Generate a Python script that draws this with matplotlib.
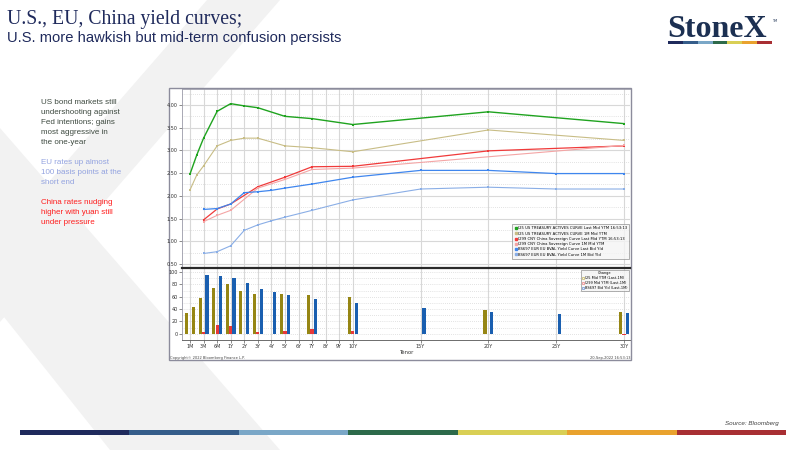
import numpy as np
import matplotlib
matplotlib.use("Agg")
import matplotlib.pyplot as plt
from matplotlib.patches import Polygon, Rectangle
from matplotlib.lines import Line2D

# %%
# tenor axis: short end squeezed, then years on a linear scale
tenor_labels = ["1M", "3M", "6M", "1Y", "2Y", "3Y", "4Y", "5Y", "6Y", "7Y", "8Y", "9Y",
                "10Y", "15Y", "20Y", "25Y", "30Y"]
short_end = {"1M": -2, "2M": -1.5, "3M": -1, "6M": 0}

# US treasury actives curve (I25)
us_tenors = ["1M", "2M", "3M", "6M", "1Y", "2Y", "3Y", "5Y", "7Y", "10Y", "20Y", "30Y"]
us_last = [2.48, 2.90, 3.27, 3.86, 4.03, 3.98, 3.94, 3.75, 3.70, 3.57, 3.85, 3.59]
us_1m = [2.13, 2.46, 2.66, 3.10, 3.22, 3.27, 3.27, 3.10, 3.06, 2.97, 3.45, 3.22]
us_chg = [34, 43, 58, 74, 80, 70, 65, 64, 62, 59, 39, 36]

# China sovereign curve (I299)
cn_last_tenors = ["3M", "6M", "1Y", "3Y", "5Y", "7Y", "10Y", "20Y", "30Y"]
cn_last = [1.47, 1.71, 1.82, 2.20, 2.41, 2.64, 2.65, 2.99, 3.10]
cn_1m_tenors = ["3M", "6M", "1Y", "3Y", "5Y", "7Y", "10Y", "30Y"]
cn_1m = [1.43, 1.57, 1.68, 2.17, 2.36, 2.58, 2.61, 3.11]
cn_chg = [3, 13.5, 12.5, 2, 5, 7, 4, -1.5]

# EU BVAL curve (BS697)
eu_tenors = ["3M", "6M", "1Y", "2Y", "3Y", "4Y", "5Y", "7Y", "10Y", "15Y", "20Y", "25Y", "30Y"]
eu_last = [1.70, 1.72, 1.82, 2.07, 2.09, 2.12, 2.17, 2.26, 2.41, 2.56, 2.56, 2.49, 2.49]
eu_1m = [0.73, 0.77, 0.90, 1.24, 1.36, 1.45, 1.53, 1.68, 1.91, 2.15, 2.19, 2.15, 2.15]
eu_chg = [95, 94, 90, 82, 72, 67, 63, 56, 50, 41.6, 36, 32, 33.5]

legend_top = ["I25 US TREASURY ACTIVES CURVE Last Mid YTM 16:53:13",
              "I25 US TREASURY ACTIVES CURVE 1M Mid YTM",
              "I299 CNY China Sovereign Curve Last Mid YTM 16:53:13",
              "I299 CNY China Sovereign Curve 1M Mid YTM",
              "BS697 EUR EU BVAL Yield Curve Last Bid Yld",
              "BS697 EUR EU BVAL Yield Curve 1M Bid Yld"]
legend_bottom = ["I25 Mid YTM (Last-1M)", "I299 Mid YTM (Last-1M)", "BS697 Bid Yld (Last-1M)"]

stripe_colors = ["#1f2a5c", "#355d8a", "#7aa7c7", "#2d6a4a", "#d9cf55", "#e9a22e", "#a82f33"]


def tx(t):
    if t in short_end:
        return short_end[t]
    return float(t[:-1])


navy = "#1f2a5c"

fig = plt.figure(figsize=(8, 4.5), dpi=100)

# background layer in pixel coordinates
bg = fig.add_axes([0, 0, 1, 1], zorder=0)
bg.set_xlim(0, 800)
bg.set_ylim(450, 0)
bg.axis("off")
bg.add_patch(Polygon([(207, 0), (280, 0), (0, 322), (0, 238)], closed=True, color="#f2f2f2", lw=0))
bg.add_patch(Polygon([(0, 128), (280, 450), (110, 450), (0, 312)], closed=True, color="#f2f2f2", lw=0))
bg.add_patch(Rectangle((169, 88), 462, 272, facecolor="white", edgecolor="#8c8c9c", lw=1))

bg.text(7, 24, "U.S., EU, China yield curves;", family="Liberation Serif", fontsize=14.2,
        color=navy, va="baseline")
bg.text(7, 42, "U.S. more hawkish but mid-term confusion persists", family="Liberation Sans",
        fontsize=10.6, color=navy, va="baseline")

paras = [(["US bond markets still", "undershooting against", "Fed intentions; gains",
           "most aggressive in", "the one-year"], 104.5, "#3e4a40"),
         (["EU rates up almost", "100 basis points at the", "short end"], 164.5, "#93a3e0"),
         (["China rates nudging", "higher with yuan still", "under pressure"], 204.5, "#ff1f1f")]
for lines, y0, col in paras:
    for i, line in enumerate(lines):
        bg.text(41, y0 + 10 * i, line, family="Liberation Sans", fontsize=5.8, color=col,
                va="baseline")

# logo
bg.text(667, 37, "StoneX", family="Liberation Serif", fontsize=23, fontweight="bold",
        color="#1c3052", va="baseline")
bg.text(772, 22, "TM", fontsize=2.5, color="#1c3052", va="baseline")
seg = 104 / 7
for i, c in enumerate(stripe_colors):
    bg.add_patch(Rectangle((668 + i * seg, 41), seg, 3, color=c, lw=0))

# footer
seg = (786 - 20) / 7
for i, c in enumerate(stripe_colors):
    bg.add_patch(Rectangle((20 + i * seg, 430), seg, 5, color=c, lw=0))
bg.text(779, 425.5, "Source: Bloomberg", family="Liberation Sans", fontsize=4.5,
        style="italic", color="#404040", ha="right", va="baseline")

bg.text(400, 352, "Tenor", fontsize=3.8, color="#333333", ha="left", va="center")
bg.text(170, 357.5, "Copyright\u00a9 2022 Bloomberg Finance L.P.", fontsize=2.6,
        color="#444444", va="center")
bg.text(630, 357.5, "20-Sep-2022 16:53:13", fontsize=2.6, color="#444444", ha="right",
        va="center")

tick_pos = [tx(t) for t in tenor_labels]
xlim = (-2.59, 30.44)
grid_c = "#d8d8d8"

# %%
# upper panel: yield curves
ax1 = fig.add_axes([0.2275, 0.4044, 0.56, 0.3989], zorder=2)
ax1.set_xlim(*xlim)
ax1.set_ylim(0.41, 4.363)
ax1.set_xticks(tick_pos)
ax1.tick_params(axis="x", length=0, labelbottom=False)
ax1.set_yticks(np.arange(0.5, 4.01, 0.5))
ax1.set_yticks(np.arange(0.75, 4.3, 0.5), minor=True)
ax1.yaxis.set_major_formatter(matplotlib.ticker.FormatStrFormatter("%.2f"))
ax1.tick_params(axis="y", which="major", labelsize=3.5, length=2, width=0.4, pad=1,
                colors="#333333")
ax1.tick_params(axis="y", which="minor", length=0)
ax1.grid(axis="x", color=grid_c, lw=0.8)
ax1.grid(axis="y", which="major", color=grid_c, lw=0.8)
ax1.grid(axis="y", which="minor", color="#c8c8c8", lw=0.5, ls=(0, (1, 2)))
ax1.spines["right"].set_visible(False)
for s in ["left", "top"]:
    ax1.spines[s].set_color("#9a9aa8")
    ax1.spines[s].set_linewidth(0.6)
ax1.spines["bottom"].set_color("#2a2a2a")
ax1.spines["bottom"].set_linewidth(1.6)

curves = [(us_tenors, us_last, "#1fa31f", 1.0),
          (us_tenors, us_1m, "#c8bd86", 0.8),
          (cn_last_tenors, cn_last, "#f03a3a", 0.9),
          (cn_1m_tenors, cn_1m, "#f4a5a5", 0.8),
          (eu_tenors, eu_last, "#3f86ee", 0.9),
          (eu_tenors, eu_1m, "#8aaee6", 0.8)]
handles = []
for tens, vals, col, lw in curves:
    ax1.plot([tx(t) for t in tens], vals, color=col, lw=lw, marker="s", ms=1.6, mew=0)
    handles.append(Line2D([], [], ls="none", marker="s", ms=1.8, color=col))

leg = ax1.legend(handles, legend_top, loc="lower right", bbox_to_anchor=(0.998, 0.05),
                 fontsize=2.7, frameon=True, fancybox=False, handletextpad=0.2,
                 labelspacing=0.35, borderpad=0.6, handlelength=0.6, borderaxespad=0)
leg.get_frame().set_edgecolor("#8c8c8c")
leg.get_frame().set_facecolor("#f4f4f4")
leg.get_frame().set_linewidth(0.6)

# %%
# lower panel: change over one month in bp
ax2 = fig.add_axes([0.2275, 0.2444, 0.56, 0.1578], zorder=1)
ax2.set_xlim(*xlim)
ax2.set_ylim(-10.2, 104.9)
ax2.set_xticks(tick_pos)
ax2.set_xticklabels(tenor_labels)
ax2.tick_params(axis="x", labelsize=3.5, length=2, width=0.4, pad=1, colors="#333333")
ax2.set_yticks(np.arange(0, 101, 20))
ax2.set_yticks(np.arange(10, 101, 20), minor=True)
ax2.tick_params(axis="y", which="major", labelsize=3.5, length=2, width=0.4, pad=1,
                colors="#333333")
ax2.tick_params(axis="y", which="minor", length=0)
ax2.grid(axis="x", color=grid_c, lw=0.8)
ax2.grid(axis="y", which="both", color="#c8c8c8", lw=0.5, ls=(0, (1, 2)))
ax2.spines["top"].set_visible(False)
ax2.spines["right"].set_visible(False)
ax2.spines["left"].set_color("#9a9aa8")
ax2.spines["left"].set_linewidth(0.6)
ax2.spines["bottom"].set_color("#555555")
ax2.spines["bottom"].set_linewidth(0.6)
ax2.set_axisbelow(True)

bw = 0.24
bar_sets = [(us_tenors, us_chg, -0.25, "#968614"),
            (cn_1m_tenors, cn_chg, 0.0, "#e8383a"),
            (eu_tenors, eu_chg, 0.25, "#1a5fb0")]
for tens, vals, off, col in bar_sets:
    ax2.bar([tx(t) + off for t in tens], vals, width=bw, color=col, lw=0, zorder=3)

bhandles = [Rectangle((0, 0), 1, 1, facecolor="#fbf7e4", edgecolor="#b8a840", lw=0.4),
            Rectangle((0, 0), 1, 1, facecolor="#fde8e8", edgecolor="#e86a6a", lw=0.4),
            Rectangle((0, 0), 1, 1, facecolor="#e6eefa", edgecolor="#4a7ccc", lw=0.4)]
leg2 = ax2.legend(bhandles, legend_bottom, title="Change", title_fontsize=2.5,
                  loc="upper right", bbox_to_anchor=(0.998, 0.985), fontsize=2.5,
                  frameon=True, fancybox=False, handletextpad=0.3, labelspacing=0.25,
                  borderpad=0.4, handlelength=0.6, handleheight=0.6, borderaxespad=0)
leg2.get_frame().set_edgecolor("#8c8c8c")
leg2.get_frame().set_facecolor("#f4f4f4")
leg2.get_frame().set_linewidth(0.6)

fig.savefig("out.png", dpi=100)
